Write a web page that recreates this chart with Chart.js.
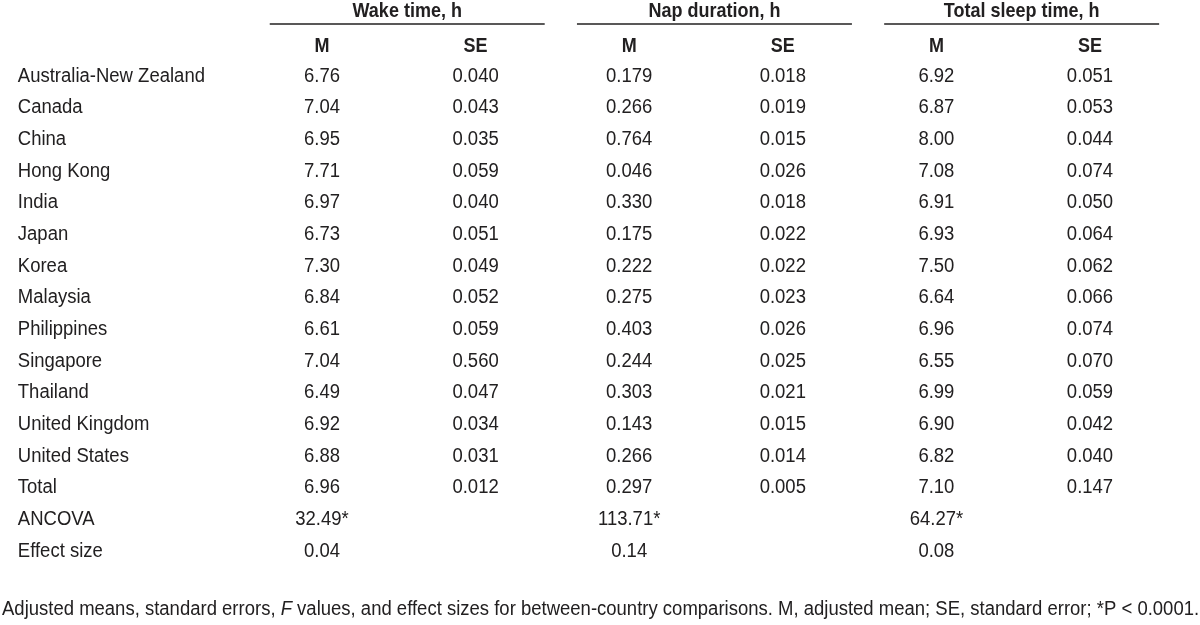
<!DOCTYPE html>
<html>
<head>
<meta charset="utf-8">
<script src="https://cdn.jsdelivr.net/npm/chart.js@4.4.0/dist/chart.umd.min.js"></script>
<style>
  html, body { margin: 0; padding: 0; background: #fff; }
  #wrap { width: 1200px; height: 625px; }
</style>
</head>
<body>
<div id="wrap"><canvas id="tbl"></canvas></div>
<script>
// row labels
const countries = ['Australia-New Zealand', 'Canada', 'China', 'Hong Kong', 'India', 'Japan', 'Korea',
  'Malaysia', 'Philippines', 'Singapore', 'Thailand', 'United Kingdom', 'United States', 'Total'];
const statRows = ['ANCOVA', 'Effect size'];

const groups = ['Wake time, h', 'Nap duration, h', 'Total sleep time, h'];
const subHeads = ['M', 'SE'];

// values (last entry = Total)
const wakeM  = [6.76, 7.04, 6.95, 7.71, 6.97, 6.73, 7.30, 6.84, 6.61, 7.04, 6.49, 6.92, 6.88, 6.96];
const wakeSE = [0.040, 0.043, 0.035, 0.059, 0.040, 0.051, 0.049, 0.052, 0.059, 0.560, 0.047, 0.034, 0.031, 0.012];
const napM   = [0.179, 0.266, 0.764, 0.046, 0.330, 0.175, 0.222, 0.275, 0.403, 0.244, 0.303, 0.143, 0.266, 0.297];
const napSE  = [0.018, 0.019, 0.015, 0.026, 0.018, 0.022, 0.022, 0.023, 0.026, 0.025, 0.021, 0.015, 0.014, 0.005];
const totM   = [6.92, 6.87, 8.00, 7.08, 6.91, 6.93, 7.50, 6.64, 6.96, 6.55, 6.99, 6.90, 6.82, 7.10];
const totSE  = [0.051, 0.053, 0.044, 0.074, 0.050, 0.064, 0.062, 0.066, 0.074, 0.070, 0.059, 0.042, 0.040, 0.147];

const ancova = [32.49, 113.71, 64.27];
const effect = [0.04, 0.14, 0.08];

const footnote = 'Adjusted means, standard errors, F values, and effect sizes for between-country comparisons. M, adjusted mean; SE, standard error; *P < 0.0001.';

const INK = '#222021';
const FONT = '"Liberation Sans", Arial, sans-serif';
// glyphs in the original are a bit taller than Arial
const STRETCH = 1.08;
const STRETCH_BOLD = 1.12;

// one dataset per column, each point carries its text
function column(values, colIdx, digits) {
  return values.map((v, i) => ({ x: colIdx, y: i, text: v.toFixed(digits) }));
}
const cols = [
  column(wakeM, 1, 2), column(wakeSE, 2, 3),
  column(napM, 3, 3), column(napSE, 4, 3),
  column(totM, 5, 2), column(totSE, 6, 3)
];
// ANCOVA / effect size under the M columns
const statPts = [];
[1, 3, 5].forEach((c, g) => {
  statPts.push({ x: c, y: countries.length, text: ancova[g].toFixed(2) + '*' });
  statPts.push({ x: c, y: countries.length + 1, text: effect[g].toFixed(2) });
});
const headPts = [];
groups.forEach((g, gi) => {
  headPts.push({ x: gi * 2 + 1.555, y: -2.05, text: g, bold: true });
  subHeads.forEach((s, si) => headPts.push({ x: gi * 2 + 1 + si, y: -0.93, text: s, bold: true }));
});
const labelPts = countries.concat(statRows).map((c, i) => ({ x: -0.98, y: i, text: c, left: true }));

const datasets = cols.concat([statPts, headPts, labelPts]).map(d => ({
  data: d, pointRadius: 0, pointHoverRadius: 0, showLine: false
}));

function drawText(ctx, txt, x, y, k) {
  ctx.save();
  ctx.translate(x, y);
  ctx.scale(1, k || STRETCH);
  ctx.fillText(txt, 0, 0);
  ctx.restore();
}

const tablePlugin = {
  id: 'tableText',
  afterDatasetsDraw(chart) {
    const ctx = chart.ctx;
    const xs = chart.scales.x, ys = chart.scales.y;
    ctx.save();
    ctx.fillStyle = INK;
    ctx.textBaseline = 'middle';
    chart.data.datasets.forEach((ds, di) => {
      const meta = chart.getDatasetMeta(di);
      meta.data.forEach((el, i) => {
        const p = ds.data[i];
        ctx.font = p.bold ? 'bold 18px ' + FONT : '18.5px ' + FONT;
        ctx.textAlign = p.left ? 'left' : 'center';
        drawText(ctx, p.text, el.x, el.y, p.bold ? STRETCH_BOLD : STRETCH);
      });
    });
    // group underlines
    ctx.strokeStyle = INK;
    ctx.lineWidth = 1.5;
    const ly = ys.getPixelForValue(-1.64);
    [1, 3, 5].forEach(c => {
      ctx.beginPath();
      ctx.moveTo(xs.getPixelForValue(c - 0.34), ly);
      ctx.lineTo(xs.getPixelForValue(c + 1.45), ly);
      ctx.stroke();
    });
    // footnote with italic F
    const reg = '18.5px ' + FONT;
    ctx.font = reg;
    ctx.textAlign = 'left';
    const fy = ys.getPixelForValue(16.83);
    const parts = footnote.split(' F ');
    let fx = xs.left + 2;
    drawText(ctx, parts[0] + ' ', fx, fy);
    fx += ctx.measureText(parts[0] + ' ').width;
    ctx.font = 'italic ' + reg;
    drawText(ctx, 'F', fx, fy);
    fx += ctx.measureText('F').width;
    ctx.font = reg;
    drawText(ctx, ' ' + parts[1], fx, fy);
    ctx.restore();
  }
};

new Chart(document.getElementById('tbl'), {
  type: 'scatter',
  data: { datasets },
  options: {
    responsive: true,
    maintainAspectRatio: false,
    animation: false,
    layout: { padding: 0 },
    plugins: { legend: { display: false }, tooltip: { enabled: false } },
    scales: {
      x: { type: 'linear', min: -1.096, max: 6.716, display: false },
      y: { type: 'linear', min: -2.4, max: 17.335, reverse: true, display: false }
    }
  },
  plugins: [tablePlugin]
});
</script>
</body>
</html>
